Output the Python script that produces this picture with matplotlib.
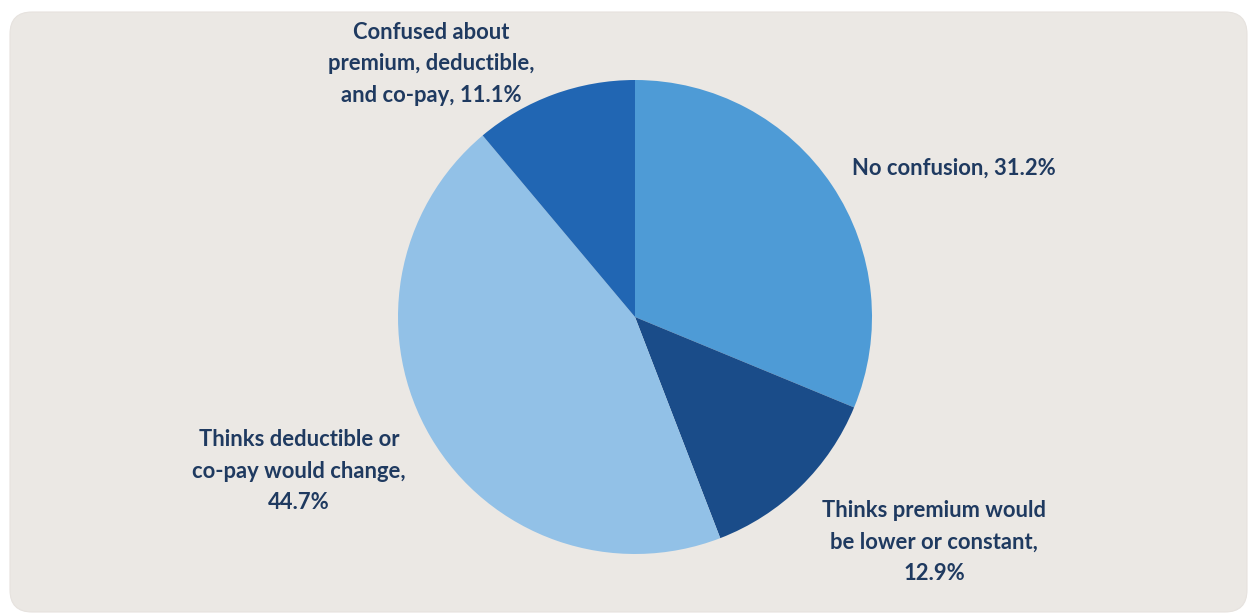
import matplotlib
matplotlib.use("Agg")
import matplotlib.pyplot as plt
from matplotlib.patches import FancyBboxPatch

categories = ["No confusion", "Thinks premium would be lower or constant",
              "Thinks deductible or co-pay would change",
              "Confused about premium, deductible, and co-pay"]
values = [31.2, 12.9, 44.7, 11.1]
labels = ["No confusion, 31.2%",
          "Thinks premium would\nbe lower or constant,\n12.9%",
          "Thinks deductible or\nco-pay would change,\n44.7%",
          "Confused about\npremium, deductible,\nand co-pay, 11.1%"]
colors = ["#4E9BD6", "#1A4C89", "#92C1E7", "#2166B3"]

W, H = 1248, 613
fig = plt.figure(figsize=(W / 100, H / 100), dpi=100)
fig.patch.set_facecolor("white")
ax = fig.add_axes([0, 0, 1, 1])
ax.set_axis_off()

bg = FancyBboxPatch((10, 1), 1237, 600, boxstyle="round,pad=0,rounding_size=22",
                    facecolor="#EBE8E4", edgecolor="#E6E2DE", linewidth=0.8, zorder=0)
ax.add_patch(bg)

cx, cy, r = 635, H - 317, 237
ax.pie(values, colors=colors, startangle=90, counterclock=False,
       center=(cx, cy), radius=r, wedgeprops=dict(linewidth=0))

ax.set_xlim(0, W)
ax.set_ylim(0, H)
ax.set_aspect("auto")

tc = "#1F3A60"
fp = dict(fontsize=15.8, fontweight="bold", color=tc, family="Lato", linespacing=1.6)
# label positions in pixel coordinates (x, y from top)
pos = [(852, 168, "left"), (934, 542, "center"), (299, 471, "center"), (431, 64, "center")]
for lab, (x, y, ha) in zip(labels, pos):
    ax.text(x, H - y, lab, ha=ha, va="center", multialignment="center", **fp)

fig.savefig("out.png", dpi=100, facecolor=fig.get_facecolor())
